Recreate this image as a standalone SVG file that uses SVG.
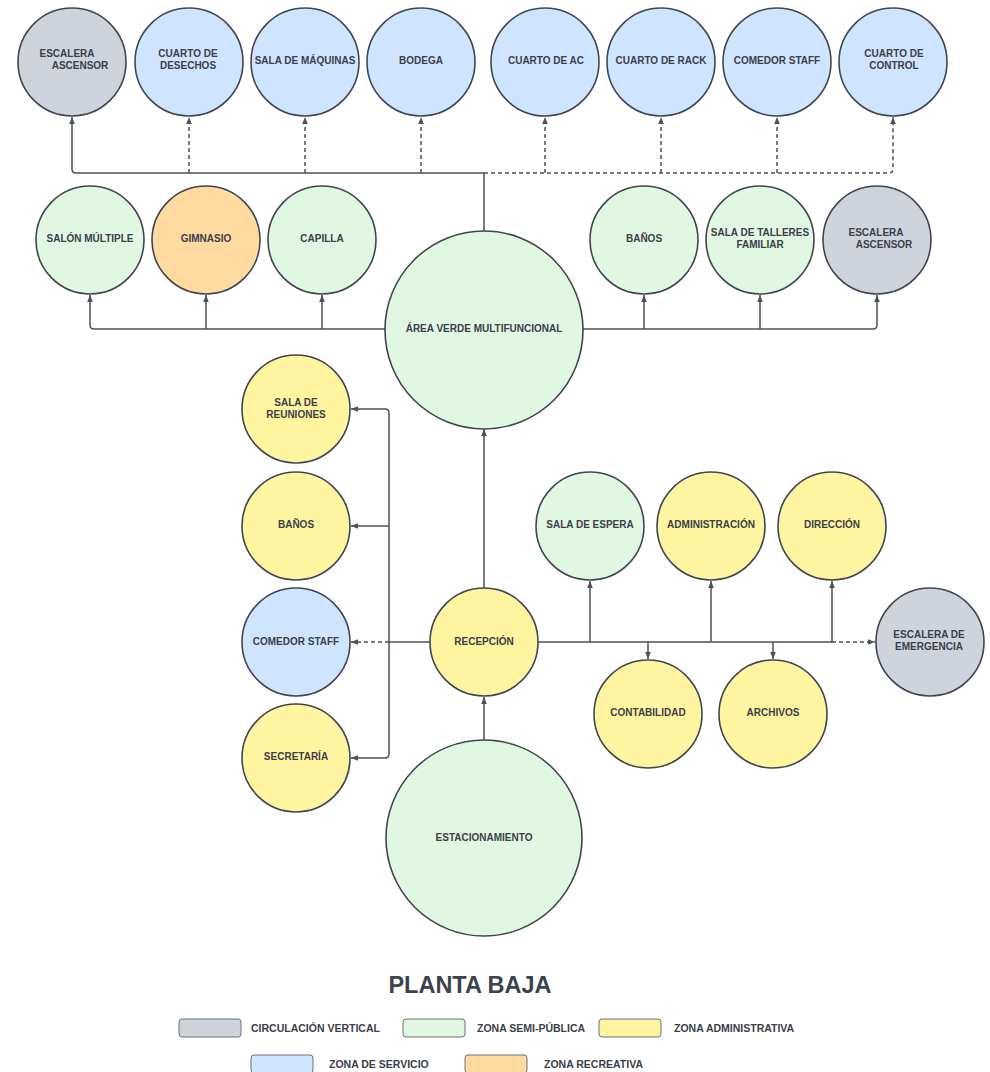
<svg xmlns="http://www.w3.org/2000/svg" width="990" height="1072" viewBox="0 0 990 1072">
<defs>
<marker id="arr" markerUnits="userSpaceOnUse" markerWidth="8" markerHeight="8" refX="7" refY="4" orient="auto">
<path d="M0,1.2 L7,4 L0,6.8 z" fill="#4b515b"/>
</marker>
<style>
.n{stroke:#40464f;stroke-width:1.6}
.g{fill:#cfd4dc}
.b{fill:#cfe4ff}
.gr{fill:#e0f7e2}
.y{fill:#fff5a1}
.o{fill:#ffdaa1}
text{font-family:"Liberation Sans",Arial,sans-serif;font-weight:bold;fill:#3b4049}
.t{font-size:10px;text-anchor:middle}
.l{font-size:10.5px}
.c{fill:none;stroke:#4b515b;stroke-width:1.5;stroke-linejoin:round}
.d{stroke-dasharray:4 3}
.lg{stroke:#6b717a;stroke-width:1}
</style>
</defs>
<rect width="990" height="1072" fill="#ffffff"/>

<g id="connectors">
<!-- top bus -->
<path class="c" d="M484,231 V173"/>
<path class="c" d="M484,173 H76 Q72,173 72,169 V117" marker-end="url(#arr)"/>
<path class="c d" d="M189,173 V117" marker-end="url(#arr)"/>
<path class="c d" d="M305,173 V117" marker-end="url(#arr)"/>
<path class="c d" d="M421,173 V117" marker-end="url(#arr)"/>
<path class="c d" d="M484,173 H889 Q893,173 893,169 V117" marker-end="url(#arr)"/>
<path class="c d" d="M545,173 V117" marker-end="url(#arr)"/>
<path class="c d" d="M661,173 V117" marker-end="url(#arr)"/>
<path class="c d" d="M777,173 V117" marker-end="url(#arr)"/>
<!-- middle bus -->
<path class="c" d="M385,329 H94 Q90,329 90,325 V295" marker-end="url(#arr)"/>
<path class="c" d="M206,329 V295" marker-end="url(#arr)"/>
<path class="c" d="M322,329 V295" marker-end="url(#arr)"/>
<path class="c" d="M583,329 H873 Q877,329 877,325 V295" marker-end="url(#arr)"/>
<path class="c" d="M644,329 V295" marker-end="url(#arr)"/>
<path class="c" d="M760,329 V295" marker-end="url(#arr)"/>
<!-- vertical spine -->
<path class="c" d="M484,588 V429" marker-end="url(#arr)"/>
<path class="c" d="M484,740 V697" marker-end="url(#arr)"/>
<!-- left column -->
<path class="c" d="M430,642 H389"/>
<path class="c" d="M389,642 V413 Q389,409 385,409 H351" marker-end="url(#arr)"/>
<path class="c" d="M389,526 H351" marker-end="url(#arr)"/>
<path class="c" d="M389,642 V754 Q389,758 385,758 H351" marker-end="url(#arr)"/>
<path class="c d" d="M389,642 H351" marker-end="url(#arr)"/>
<!-- right admin bus -->
<path class="c" d="M537,642 H832 V581" marker-end="url(#arr)"/>
<path class="c" d="M590,642 V581" marker-end="url(#arr)"/>
<path class="c" d="M711,642 V581" marker-end="url(#arr)"/>
<path class="c" d="M648,642 V659" marker-end="url(#arr)"/>
<path class="c" d="M773,642 V659" marker-end="url(#arr)"/>
<path class="c d" d="M832,642 H875" marker-end="url(#arr)"/>
</g>

<!-- top row -->
<g id="escalera-ascensor-1"><circle class="n g" cx="72" cy="62" r="54"/><text class="t" x="67" y="57">ESCALERA</text><text class="t" x="80" y="69">ASCENSOR</text></g>
<g id="cuarto-desechos"><circle class="n b" cx="189" cy="62" r="54"/><text class="t" x="188" y="57">CUARTO DE</text><text class="t" x="188" y="69">DESECHOS</text></g>
<g id="sala-maquinas"><circle class="n b" cx="305" cy="62" r="54"/><text class="t" x="305" y="64">SALA DE MÁQUINAS</text></g>
<g id="bodega"><circle class="n b" cx="421" cy="62" r="54"/><text class="t" x="421" y="64">BODEGA</text></g>
<g id="cuarto-ac"><circle class="n b" cx="545" cy="62" r="54"/><text class="t" x="546" y="64">CUARTO DE AC</text></g>
<g id="cuarto-rack"><circle class="n b" cx="661" cy="62" r="54"/><text class="t" x="661" y="64">CUARTO DE RACK</text></g>
<g id="comedor-staff-1"><circle class="n b" cx="777" cy="62" r="54"/><text class="t" x="777" y="64">COMEDOR STAFF</text></g>
<g id="cuarto-control"><circle class="n b" cx="893" cy="62" r="54"/><text class="t" x="894" y="57">CUARTO DE</text><text class="t" x="894" y="69">CONTROL</text></g>

<!-- middle row -->
<g id="salon-multiple"><circle class="n gr" cx="90" cy="240" r="54"/><text class="t" x="90" y="242">SALÓN MÚLTIPLE</text></g>
<g id="gimnasio"><circle class="n o" cx="206" cy="240" r="54"/><text class="t" x="206" y="242">GIMNASIO</text></g>
<g id="capilla"><circle class="n gr" cx="322" cy="240" r="54"/><text class="t" x="322" y="242">CAPILLA</text></g>
<g id="banos-1"><circle class="n gr" cx="644" cy="240" r="54"/><text class="t" x="644" y="242">BAÑOS</text></g>
<g id="sala-talleres"><circle class="n gr" cx="760" cy="240" r="54"/><text class="t" x="760" y="236">SALA DE TALLERES</text><text class="t" x="760" y="248">FAMILIAR</text></g>
<g id="escalera-ascensor-2"><circle class="n g" cx="877" cy="240" r="54"/><text class="t" x="876" y="236">ESCALERA</text><text class="t" x="884" y="248">ASCENSOR</text></g>

<g id="area-verde"><circle class="n gr" cx="484" cy="330" r="99"/><text class="t" x="484" y="332">ÁREA VERDE MULTIFUNCIONAL</text></g>

<!-- left column -->
<g id="sala-reuniones"><circle class="n y" cx="296" cy="409" r="54"/><text class="t" x="296" y="406">SALA DE</text><text class="t" x="296" y="418">REUNIONES</text></g>
<g id="banos-2"><circle class="n y" cx="296" cy="526" r="54"/><text class="t" x="296" y="528">BAÑOS</text></g>
<g id="comedor-staff-2"><circle class="n b" cx="296" cy="642" r="54"/><text class="t" x="296" y="645">COMEDOR STAFF</text></g>
<g id="secretaria"><circle class="n y" cx="296" cy="758" r="54"/><text class="t" x="296" y="760">SECRETARÍA</text></g>

<g id="recepcion"><circle class="n y" cx="484" cy="642" r="54"/><text class="t" x="484" y="645">RECEPCIÓN</text></g>

<!-- right -->
<g id="sala-espera"><circle class="n gr" cx="590" cy="526" r="54"/><text class="t" x="590" y="528">SALA DE ESPERA</text></g>
<g id="administracion"><circle class="n y" cx="711" cy="526" r="54"/><text class="t" x="711" y="528">ADMINISTRACIÓN</text></g>
<g id="direccion"><circle class="n y" cx="832" cy="526" r="54"/><text class="t" x="832" y="528">DIRECCIÓN</text></g>
<g id="contabilidad"><circle class="n y" cx="648" cy="714" r="54"/><text class="t" x="648" y="716">CONTABILIDAD</text></g>
<g id="archivos"><circle class="n y" cx="773" cy="714" r="54"/><text class="t" x="773" y="716">ARCHIVOS</text></g>
<g id="escalera-emergencia"><circle class="n g" cx="930" cy="642" r="54"/><text class="t" x="929" y="638">ESCALERA DE</text><text class="t" x="929" y="650">EMERGENCIA</text></g>

<g id="estacionamiento"><circle class="n gr" cx="484" cy="838" r="98"/><text class="t" x="484" y="841">ESTACIONAMIENTO</text></g>

<!-- title and legend -->
<text x="470" y="993" style="font-size:23.5px;text-anchor:middle;fill:#3d434c">PLANTA BAJA</text>
<g id="legend">
<rect class="lg g" x="179" y="1019" width="62" height="18" rx="3"/>
<text class="l" x="251" y="1032">CIRCULACIÓN VERTICAL</text>
<rect class="lg gr" x="403" y="1019" width="62" height="18" rx="3"/>
<text class="l" x="477" y="1032">ZONA SEMI-PÚBLICA</text>
<rect class="lg y" x="599" y="1019" width="62" height="18" rx="3"/>
<text class="l" x="674" y="1032">ZONA ADMINISTRATIVA</text>
<rect class="lg b" x="251" y="1055" width="62" height="18" rx="3"/>
<text class="l" x="329" y="1068">ZONA DE SERVICIO</text>
<rect class="lg o" x="465" y="1055" width="62" height="18" rx="3"/>
<text class="l" x="544" y="1068">ZONA RECREATIVA</text>
</g>
</svg>
